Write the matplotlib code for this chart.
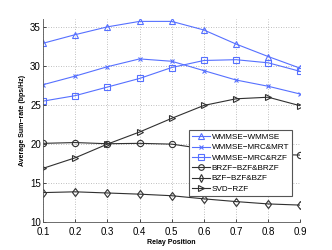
import matplotlib
matplotlib.use("Agg")
import matplotlib.pyplot as plt

x = [0.1, 0.2, 0.3, 0.4, 0.5, 0.6, 0.7, 0.8, 0.9]
wmmse_wmmse = [32.9, 34.0, 35.0, 35.7, 35.7, 34.6, 32.8, 31.2, 29.7]
wmmse_mrc_mrt = [27.6, 28.7, 29.9, 30.9, 30.6, 29.4, 28.2, 27.4, 26.4]
wmmse_mrc_rzf = [25.5, 26.2, 27.3, 28.4, 29.8, 30.7, 30.8, 30.4, 29.3]
brzf = [20.1, 20.2, 20.05, 20.1, 20.0, 19.4, 19.0, 18.7, 18.6]
bzf = [13.8, 13.9, 13.75, 13.6, 13.4, 13.0, 12.65, 12.35, 12.2]
svd_rzf = [16.9, 18.25, 20.0, 21.55, 23.3, 24.95, 25.8, 26.0, 24.9]

labels = ["WMMSE\u2212WMMSE", "WMMSE\u2212MRC&MRT", "WMMSE\u2212MRC&RZF",
          "BRZF\u2212BZF&BRZF", "BZF\u2212BZF&BZF", "SVD\u2212RZF"]
xticks = [0.1, 0.2, 0.3, 0.4, 0.5, 0.6, 0.7, 0.8, 0.9]
yticks = [10, 15, 20, 25, 30, 35]

plt.rcParams['font.family'] = ['Liberation Sans', 'DejaVu Sans']
fig = plt.figure(figsize=(3.32, 2.5), dpi=100)
ax = fig.add_axes([0.1295, 0.1108, 0.7755, 0.813])

blue = '#5670ff'
dark = '#303030'
series = [(wmmse_wmmse, '^', blue), (wmmse_mrc_mrt, 'x', blue), (wmmse_mrc_rzf, 's', blue),
          (brzf, 'o', dark), (bzf, 'd', dark), (svd_rzf, '>', dark)]
for (ys, m, c), lab in zip(series, labels):
    ax.plot(x, ys, marker=m, color=c, lw=0.8, ms=4.5 if m != 'x' else 3.5,
            mfc='none', mew=0.8, label=lab)

ax.set_xlim(0.1, 0.9)
ax.set_ylim(10, 36)
ax.set_xticks(xticks)
ax.set_xticklabels([str(t) for t in xticks])
ax.set_yticks(yticks)
ax.tick_params(direction='in', length=2, labelsize=7, pad=1.5, width=0.5)
ax.tick_params(axis='x', pad=3.2)
ax.spines['top'].set_visible(False)
ax.spines['right'].set_visible(False)
for s in ('left', 'bottom'):
    ax.spines[s].set_linewidth(0.6)
    ax.spines[s].set_color('#555555')
ax.grid(True, linestyle=(0, (1, 2)), color='#aaaaaa', lw=0.6)
ax.set_xlabel('Relay Position', fontsize=5, fontweight='bold', labelpad=1.5)
ax.set_ylabel('Average Sum\u2212rate (bps/Hz)', fontsize=5, fontweight='bold', labelpad=3)

leg = ax.legend(loc='upper left', bbox_to_anchor=(0.566, 0.452), fontsize=5.9,
                frameon=True, fancybox=False, borderpad=0.35, labelspacing=0.32,
                handlelength=2.2, handletextpad=0.25, borderaxespad=0,
                markerscale=0.9)
leg.get_frame().set_edgecolor('#555555')
leg.get_frame().set_linewidth(0.8)
leg.get_frame().set_alpha(1)

fig.savefig('out.png', dpi=100)
